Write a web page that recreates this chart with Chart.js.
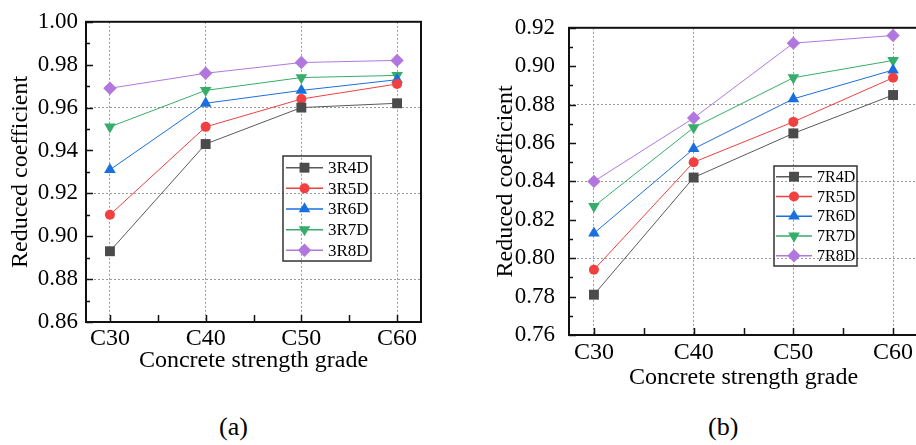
<!DOCTYPE html>
<html>
<head>
<meta charset="utf-8">
<script src="https://cdn.jsdelivr.net/npm/chart.js@4/dist/chart.umd.min.js"></script>
<style>
  html, body { margin: 0; padding: 0; background: #fff; overflow: hidden; }
  #wrap { position: relative; width: 916px; height: 445px; overflow: hidden; }
  canvas { position: absolute; top: 0; }
  .cap { position: absolute; font-family: "Liberation Serif", serif; font-size: 26px; color: #000; }
</style>
</head>
<body>
<div id="wrap">
  <canvas id="chartA" width="460" height="400" style="left:0"></canvas>
  <canvas id="chartB" width="470" height="400" style="left:460px"></canvas>
  <div class="cap" style="left:219px; top:412px">(a)</div>
  <div class="cap" style="left:708px; top:412px">(b)</div>
</div>
<script>
const grades = ["C30", "C40", "C50", "C60"];

// (a) 3R series
const r3d4 = [0.893, 0.943, 0.960, 0.962];
const r3d5 = [0.910, 0.951, 0.964, 0.971];
const r3d6 = [0.931, 0.962, 0.968, 0.973];
const r3d7 = [0.951, 0.968, 0.974, 0.975];
const r3d8 = [0.969, 0.976, 0.981, 0.982];

// (b) 7R series
const r7d4 = [0.781, 0.842, 0.865, 0.885];
const r7d5 = [0.794, 0.850, 0.871, 0.894];
const r7d6 = [0.813, 0.857, 0.883, 0.898];
const r7d7 = [0.827, 0.868, 0.894, 0.903];
const r7d8 = [0.840, 0.873, 0.912, 0.916];

const FONT = "'Liberation Serif', 'Times New Roman', serif";
Chart.defaults.font.family = FONT;

const looks = [
  { color: "#4b4b4b", line: "#5a5a5a", style: "rect", r: 7, rot: 0 },
  { color: "#f04040", line: "#f04040", style: "circle", r: 5, rot: 0 },
  { color: "#1a6fdf", line: "#1a6fdf", style: "triangle", r: 6.7, rot: 0 },
  { color: "#37ad6b", line: "#37ad6b", style: "triangle", r: 6.7, rot: 180 },
  { color: "#b177de", line: "#b177de", style: "rectRot", r: 6.7, rot: 0 }
];

function drawMarker(ctx, style, r, rot, x, y) {
  ctx.beginPath();
  if (style === "rect") {
    const s = r * Math.SQRT1_2;
    ctx.rect(x - s, y - s, 2 * s, 2 * s);
  } else if (style === "circle") {
    ctx.arc(x, y, r, 0, Math.PI * 2);
  } else if (style === "triangle") {
    let rad = rot * Math.PI / 180;
    ctx.moveTo(x + Math.sin(rad) * r, y - Math.cos(rad) * r);
    rad -= 2 * Math.PI / 3;
    ctx.lineTo(x + Math.sin(rad) * r, y - Math.cos(rad) * r);
    rad -= 2 * Math.PI / 3;
    ctx.lineTo(x + Math.sin(rad) * r, y - Math.cos(rad) * r);
  } else {
    ctx.moveTo(x - r, y);
    ctx.lineTo(x, y - r);
    ctx.lineTo(x + r, y);
    ctx.lineTo(x, y + r);
  }
  ctx.closePath();
  ctx.fill();
}

// frame, inward ticks and minor ticks
const framePlugin = {
  id: "framePlugin",
  beforeDatasetsDraw(chart) {
    const { ctx, chartArea: a, scales: { x, y } } = chart;
    ctx.save();
    ctx.strokeStyle = "#111";
    ctx.lineWidth = 1.5;
    const n = Math.round((y.max - y.min) / 0.01);
    for (let i = 0; i <= n; i++) {
      const py = Math.round(y.getPixelForValue(y.min + i * 0.01)) + 0.5;
      const len = i % 2 === 0 ? 7 : 4;
      ctx.beginPath();
      ctx.moveTo(a.left, py);
      ctx.lineTo(a.left + len, py);
      ctx.stroke();
    }
    for (let i = 0; i < grades.length; i++) {
      const marks = i < grades.length - 1 ? [i, i + 0.5] : [i];
      marks.forEach(v => {
        const px = Math.round(x.getPixelForValue(v)) + 0.5;
        ctx.beginPath();
        ctx.moveTo(px, a.bottom);
        ctx.lineTo(px, a.bottom - 7);
        ctx.stroke();
      });
    }
    ctx.lineWidth = 2;
    ctx.strokeRect(a.left, a.top, a.right - a.left, a.bottom - a.top);
    ctx.restore();
  }
};

// legend box inside the plot
const boxLegend = {
  id: "boxLegend",
  afterDraw(chart, args, o) {
    const ctx = chart.ctx;
    ctx.save();
    ctx.strokeStyle = "#333";
    ctx.lineWidth = 1.5;
    ctx.strokeRect(o.x, o.y, o.w, o.h);
    ctx.font = o.fontSize + "px " + FONT;
    ctx.textBaseline = "middle";
    chart.data.datasets.forEach((ds, i) => {
      const lk = looks[i];
      const cy = o.y + o.first + i * o.rowH;
      ctx.strokeStyle = lk.line;
      ctx.lineWidth = 1.5;
      ctx.beginPath();
      ctx.moveTo(o.x + o.lineX, cy);
      ctx.lineTo(o.x + o.lineX + o.lineLen, cy);
      ctx.stroke();
      ctx.fillStyle = lk.color;
      drawMarker(ctx, lk.style, lk.r, lk.rot, o.x + o.lineX + o.lineLen / 2, cy);
      ctx.fillStyle = "#000";
      ctx.fillText(ds.label, o.x + o.textX, cy + 1);
    });
    ctx.restore();
  }
};

function makeSets(labels, series) {
  return series.map((vals, i) => ({
    label: labels[i],
    data: vals.map((v, k) => ({ x: k, y: v })),
    borderColor: looks[i].line,
    backgroundColor: looks[i].color,
    borderWidth: 1,
    pointStyle: looks[i].style,
    pointRadius: looks[i].r,
    pointRotation: looks[i].rot,
    pointBackgroundColor: looks[i].color,
    pointBorderColor: looks[i].color,
    pointBorderWidth: 0,
    clip: false
  }));
}

function makeChart(id, sets, yMin, yMax, gridVals, lay) {
  return new Chart(document.getElementById(id), {
    type: "line",
    data: { datasets: sets },
    options: {
      responsive: false,
      animation: false,
      devicePixelRatio: 1,
      layout: { padding: { left: 0, top: lay.top, right: lay.right, bottom: 0 } },
      plugins: {
        legend: { display: false },
        tooltip: { enabled: false },
        boxLegend: lay.legend
      },
      scales: {
        x: {
          type: "linear",
          min: -0.25,
          max: grades.length - 0.75,
          afterBuildTicks: s => { s.ticks = grades.map((g, i) => ({ value: i })); },
          afterFit: s => { s.height = lay.xH; },
          ticks: {
            callback: v => grades[v],
            font: { family: FONT, size: 24 },
            color: "#000",
            padding: lay.xTickPad,
            maxRotation: 0
          },
          grid: { color: "#9a9a9a", lineWidth: 1, drawTicks: false },
          border: { display: false, dash: [2, 2] },
          title: {
            display: true,
            text: "Concrete strength grade",
            font: { family: FONT, size: 24 },
            color: "#000",
            padding: { top: 0, bottom: lay.xTitlePad }
          }
        },
        y: {
          min: yMin,
          max: yMax,
          afterFit: s => { s.width = lay.yW; },
          ticks: {
            stepSize: 0.02,
            callback: v => v.toFixed(2),
            font: { family: FONT, size: 23 },
            color: "#000",
            padding: lay.yTickPad
          },
          grid: {
            color: c => gridVals.some(g => Math.abs(c.tick.value - g) < 1e-6) ? "#9a9a9a" : "rgba(0,0,0,0)",
            lineWidth: 1,
            drawTicks: false
          },
          border: { display: false, dash: [2, 2] },
          title: {
            display: true,
            text: "Reduced coefficient",
            font: { family: FONT, size: 24 },
            color: "#000",
            padding: { top: lay.yTitlePad, bottom: 0 }
          }
        }
      }
    },
    plugins: [framePlugin, boxLegend]
  });
}

makeChart("chartA",
  makeSets(["3R4D", "3R5D", "3R6D", "3R7D", "3R8D"], [r3d4, r3d5, r3d6, r3d7, r3d8]),
  0.86, 1.00, [0.88, 0.92, 0.96],
  {
    top: 20, right: 39, xH: 78, yW: 86,
    xTickPad: 2, xTitlePad: 25, yTickPad: 8, yTitlePad: 6,
    legend: { x: 283, y: 156, w: 88, h: 105, first: 11.7, rowH: 20.65, lineX: 3, lineLen: 37, textX: 45, fontSize: 17 }
  });

makeChart("chartB",
  makeSets(["7R4D", "7R5D", "7R6D", "7R7D", "7R8D"], [r7d4, r7d5, r7d6, r7d7, r7d8]),
  0.76, 0.92, [0.80, 0.84, 0.88],
  {
    top: 16, right: 12, xH: 65, yW: 109,
    xTickPad: 3, xTitlePad: 8, yTickPad: 14, yTitlePad: 31,
    legend: { x: 314, y: 166, w: 83, h: 100, first: 10.7, rowH: 19.75, lineX: 2, lineLen: 36, textX: 43, fontSize: 16 }
  });
</script>
</body>
</html>
